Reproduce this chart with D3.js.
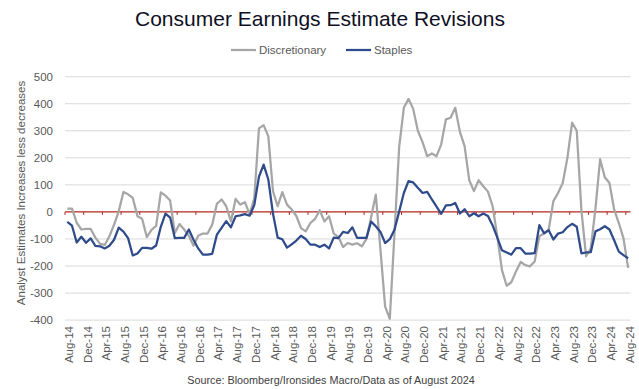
<!DOCTYPE html>
<html><head><meta charset="utf-8">
<script src="https://cdn.jsdelivr.net/npm/d3@7"></script>
<style>body{margin:0;background:#fff}svg{display:block;font-family:"Liberation Sans",Arial,sans-serif}</style>
</head><body><svg id="c" width="639" height="389"></svg>
<script>
const tickLabels = ["Aug-14","Dec-14","Apr-15","Aug-15","Dec-15","Apr-16","Aug-16","Dec-16","Apr-17","Aug-17","Dec-17","Apr-18","Aug-18","Dec-18","Apr-19","Aug-19","Dec-19","Apr-20","Aug-20","Dec-20","Apr-21","Aug-21","Dec-21","Apr-22","Aug-22","Dec-22","Apr-23","Aug-23","Dec-23","Apr-24","Aug-24"];
const yTicks = [-400,-300,-200,-100,0,100,200,300,400,500];
const discretionary = [12,12,-40,-65,-63,-63,-95,-118,-122,-90,-47,2,74,65,52,-16,-25,-93,-66,-52,
 72,60,42,-78,-45,-65,-88,-125,-88,-80,-80,-47,30,46,21,-35,48,27,36,-8,
 50,309,321,280,77,21,73,27,9,-15,-60,-72,-41,-26,6,-35,-16,-80,-92,-130,
 -115,-121,-116,-127,-100,-20,64,-140,-350,-395,-80,240,385,418,381,300,258,206,216,206,
 250,342,348,385,296,243,117,77,117,95,75,21,-90,-215,-273,-260,-220,-185,-197,-201,
 -183,-90,-80,-65,40,70,107,200,330,300,5,-164,-135,12,195,128,107,9,-41,-98,-207];
const staples = [-37,-51,-113,-92,-114,-98,-126,-127,-135,-125,-103,-58,-73,-97,-161,-154,-133,-133,-136,-124,
 -55,-6,-21,-97,-96,-96,-65,-103,-135,-158,-158,-155,-84,-59,-34,-57,-16,-13,-8,-14,
 25,130,175,120,-6,-95,-101,-132,-120,-106,-88,-100,-121,-121,-130,-121,-135,-95,-97,-74,
 -78,-57,-96,-96,-96,-36,-53,-74,-115,-101,-66,1,70,114,109,89,70,74,46,20,
 -7,24,25,33,-6,10,-16,-5,-16,-6,-15,-50,-95,-142,-150,-158,-134,-134,-154,-154,
 -152,-49,-79,-68,-102,-80,-75,-56,-44,-55,-153,-150,-149,-72,-64,-53,-65,-105,-147,-160,-172];

const fmt = d3.timeFormat("%b-%y");
const cats = d3.timeMonth.range(new Date(2014,7,1), new Date(2024,8,1)).map(fmt);

const svg = d3.select("#c");
const x = d3.scaleBand().domain(cats).range([65, 630.5]);
const cx = c => x(c) + x.bandwidth()/2;
const y = d3.scaleLinear().domain([-400,500]).range([320.1, 76.7]);

// title
svg.append("text").attr("x",320).attr("y",26).attr("text-anchor","middle")
  .attr("font-size",21).attr("fill","#0f0f1f").text("Consumer Earnings Estimate Revisions");

// legend
const lg = svg.append("g");
[{n:"Discretionary",c:"#a6a6a6",x:231},{n:"Staples",c:"#2f4b8b",x:346}].forEach(d=>{
  lg.append("line").attr("x1",d.x).attr("x2",d.x+25).attr("y1",50).attr("y2",50)
    .attr("stroke",d.c).attr("stroke-width",2.25);
  lg.append("text").attr("x",d.x+28).attr("y",50).attr("dy","0.35em").attr("font-size",11.5)
    .attr("fill","#595959").text(d.n);
});

// gridlines
svg.append("g").selectAll("line").data(yTicks.filter(v=>v!==0)).join("line")
  .attr("x1",65).attr("x2",630.5).attr("y1",d=>y(d)).attr("y2",d=>y(d))
  .attr("stroke","#d9d9d9").attr("stroke-width",1);

// y labels
svg.append("g").selectAll("text").data(yTicks).join("text")
  .attr("x",53).attr("y",d=>y(d)).attr("dy","0.35em").attr("text-anchor","end")
  .attr("font-size",11.5).attr("fill","#595959").text(d=>d);

// y title
svg.append("text").attr("transform","translate(21,193) rotate(-90)").attr("dy","0.35em")
  .attr("text-anchor","middle").attr("font-size",11.5).attr("fill","#595959")
  .text("Analyst Estimates Increases less decreases");

// zero axis line with ticks
const zy = y(0);
svg.append("line").attr("x1",65).attr("x2",630.5).attr("y1",zy).attr("y2",zy)
  .attr("stroke","#b3261e").attr("stroke-width",1.25);
svg.append("g").selectAll("line").data(cats.filter((c,i)=>i%4===0)).join("line")
  .attr("x1",d=>x(d)).attr("x2",d=>x(d)).attr("y1",zy).attr("y2",zy+3)
  .attr("stroke","#b3261e").attr("stroke-width",1);

// x labels
svg.append("g").selectAll("text").data(tickLabels).join("text")
  .attr("transform",d=>`translate(${cx(d)+1.5},326) rotate(-90)`).attr("dy","0.35em")
  .attr("text-anchor","end").attr("font-size",11.5).attr("fill","#595959").text(d=>d);

// lines
const line = d3.line().x((d,i)=>cx(cats[i])).y(d=>y(d));
svg.append("path").datum(discretionary).attr("d",line).attr("fill","none")
  .attr("stroke","#a6a6a6").attr("stroke-width",2.25).attr("stroke-linejoin","round");
svg.append("path").datum(staples).attr("d",line).attr("fill","none")
  .attr("stroke","#2f4b8b").attr("stroke-width",2.25).attr("stroke-linejoin","round");

// source
svg.append("text").attr("x",331).attr("y",384).attr("text-anchor","middle")
  .attr("font-size",10.8).attr("fill","#404040")
  .text("Source: Bloomberg/Ironsides Macro/Data as of August 2024");
</script></body></html>
